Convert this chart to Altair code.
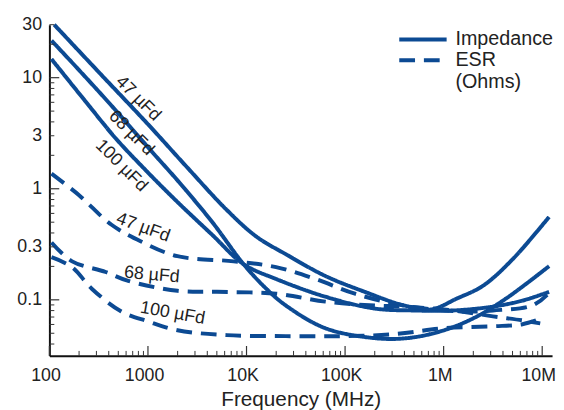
import altair as alt
import pandas as pd

BLUE = "#0c4a93"
FONT = "Liberation Sans"
TXT = "#222222"

# ---- curve data (frequency, ohms) ----
imp47_f = [112, 316, 1000, 2512, 6310, 12589, 25119, 63096, 158489, 398107, 741310, 1.349e6, 2.512e6, 5.012e6, 1.175e7]
imp47_z = [30, 11.25, 3.81, 1.55, 0.644, 0.371, 0.257, 0.164, 0.118, 0.0888, 0.0818, 0.1023, 0.134, 0.232, 0.558]

imp68_f = [105, 200, 417, 1122, 1995, 4467, 9333, 15849, 25119, 63096, 199526, 426580, 933254, 1.995e6, 4.266e6, 1.175e7]
imp68_z = [21.6, 11.7, 5.73, 2.107, 1.189, 0.504, 0.2095, 0.126, 0.0888, 0.0555, 0.0452, 0.0452, 0.0521, 0.0681, 0.1023, 0.201]

imp100_f = [105, 251, 468, 1000, 1995, 4467, 9333, 19953, 63096, 199526, 501187, 1.259e6, 3.162e6, 6.31e6, 1.175e7]
imp100_z = [14.7, 5.62, 2.86, 1.40, 0.759, 0.386, 0.2095, 0.154, 0.1067, 0.0835, 0.0802, 0.0802, 0.0869, 0.0984, 0.118]

esr47_f = [105, 200, 427, 851, 1995, 7413, 19953, 50119, 125893, 398107, 1.585e6, 3.162e6, 7.943e6, 1.122e7]
esr47_z = [1.37, 0.875, 0.474, 0.335, 0.247, 0.222, 0.197, 0.154, 0.1135, 0.0888, 0.0785, 0.0802, 0.0888, 0.111]

esr68_f = [105, 170, 372, 631, 1995, 5012, 19953, 63096, 199526, 398107, 1.259e6, 3.162e6, 6.31e6, 9.55e6]
esr68_z = [0.328, 0.222, 0.178, 0.148, 0.1206, 0.118, 0.1135, 0.0964, 0.0888, 0.0869, 0.0802, 0.0710, 0.0653, 0.0614]

esr100_f = [105, 170, 269, 537, 1000, 1995, 6310, 25119, 93325, 316228, 1e6, 3.162e6, 6.31e6, 1e7]
esr100_z = [0.242, 0.197, 0.126, 0.0785, 0.064, 0.0532, 0.0481, 0.0471, 0.0471, 0.0491, 0.0555, 0.0578, 0.0603, 0.0681]

# ---- curve labels ----
lab_text = ["47 \u00b5Fd", "68 \u00b5Fd", "100 \u00b5Fd", "47 \u00b5Fd", "68 \u00b5Fd", "100 \u00b5Fd"]
lab_f = [794, 676, 537, 891, 1096, 1778]
lab_z = [6.48, 3.17, 1.61, 0.446, 0.167, 0.0754]
lab_angle = [45, 45, 45, 20, 5, 10]

# ---- axis ticks ----
x_major = [1e2, 1e3, 1e4, 1e5, 1e6, 1e7]
x_minor = [k * 10 ** e for e in range(2, 7) for k in range(2, 10)]
y_major = [0.1, 1, 10]
y_minor = [0.04, 0.05, 0.06, 0.07, 0.08, 0.09,
           0.2, 0.3, 0.4, 0.5, 0.6, 0.7, 0.8, 0.9,
           2, 3, 4, 5, 6, 7, 8, 9, 20, 30]
y_labels = [0.1, 0.3, 1, 3, 10, 30]

rows = []
for name, kind, fs, zs in [
    ("imp47", "Impedance", imp47_f, imp47_z),
    ("imp68", "Impedance", imp68_f, imp68_z),
    ("imp100", "Impedance", imp100_f, imp100_z),
    ("esr47", "ESR", esr47_f, esr47_z),
    ("esr68", "ESR", esr68_f, esr68_z),
    ("esr100", "ESR", esr100_f, esr100_z),
]:
    for f, z in zip(fs, zs):
        rows.append({"freq": f, "ohms": z, "curve": name, "kind": kind})
df = pd.DataFrame(rows)

H = 336
xs = alt.Scale(type="log", domain=[100, 1.259e7], nice=False)
ys = alt.Scale(type="log", domain=[0.0313, 30], nice=False)

x_axis = alt.Axis(
    values=x_major,
    labelExpr="datum.value >= 1e6 ? format(datum.value/1e6,'d') + 'M' : datum.value >= 1e4 ? format(datum.value/1e3,'d') + 'K' : format(datum.value,'d')",
    ticks=False, tickSize=0, grid=False,
    domainColor="#111111", domainWidth=2,
    labelFont=FONT, labelFontSize=18, labelColor=TXT, labelPadding=11, labelOffset=-4,
    labelFlush=False, labelOverlap=False,
    title="Frequency (MHz)", titleFont=FONT, titleFontSize=21, titleFontWeight="normal",
    titleColor=TXT, titlePadding=4,
)
y_axis = alt.Axis(
    values=y_labels,
    labelExpr="datum.value >= 1 ? format(datum.value,'d') : format(datum.value,'.1f')",
    ticks=False, tickSize=0, grid=False,
    domainColor="#111111", domainWidth=2,
    labelFont=FONT, labelFontSize=18, labelColor=TXT, labelPadding=8,
    labelFlush=False, labelOverlap=False, title=None,
)


def X(field):
    return alt.X(field, type="quantitative", scale=xs, axis=x_axis)


def Y(field):
    return alt.Y(field, type="quantitative", scale=ys, axis=y_axis)


lines = alt.Chart(df).mark_line(color=BLUE, strokeWidth=4, interpolate="catmull-rom").encode(
    x=X("freq"),
    y=Y("ohms"),
    detail="curve:N",
    strokeDash=alt.StrokeDash(
        "kind:N",
        scale=alt.Scale(domain=["Impedance", "ESR"], range=[[1, 0], [16, 9]]),
        legend=alt.Legend(
            title=None, orient="none", legendX=368, legendY=4,
            symbolType="M-2.67,0H2.67", symbolSize=324, symbolStrokeWidth=4,
            symbolStrokeColor=BLUE, symbolFillColor="transparent",
            labelFont=FONT, labelFontSize=20, labelColor=TXT, labelOffset=22,
            rowPadding=0, padding=0,
        ),
    ),
)

labels_df = pd.DataFrame({"text": lab_text, "freq": lab_f, "ohms": lab_z, "angle": lab_angle})
labels = alt.Chart(labels_df).mark_text(font=FONT, fontSize=18, color=TXT, align="center", baseline="middle").encode(
    x=X("freq"),
    y=Y("ohms"),
    text="text:N",
    angle=alt.Angle("angle:Q", scale=None),
)

ohms_df = pd.DataFrame({"text": ["(Ohms)"], "freq": [1.318e6], "ohms": [9.17]})
ohms = alt.Chart(ohms_df).mark_text(font=FONT, fontSize=20, color=TXT, align="left", baseline="middle").encode(
    x=X("freq"),
    y=Y("ohms"),
    text="text:N",
)

TICK = "#333333"
xmaj = alt.Chart(pd.DataFrame({"freq": x_major})).mark_rule(color=TICK, strokeWidth=1.2).encode(
    x=X("freq"), y=alt.value(H), y2=alt.value(H - 10))
xmin = alt.Chart(pd.DataFrame({"freq": x_minor})).mark_rule(color=TICK, strokeWidth=1).encode(
    x=X("freq"), y=alt.value(H), y2=alt.value(H - 5))
ymaj = alt.Chart(pd.DataFrame({"ohms": y_major})).mark_rule(color=TICK, strokeWidth=1.2).encode(
    y=Y("ohms"), x=alt.value(0), x2=alt.value(10))
ymin = alt.Chart(pd.DataFrame({"ohms": y_minor})).mark_rule(color=TICK, strokeWidth=1).encode(
    y=Y("ohms"), x=alt.value(0), x2=alt.value(5))

chart = alt.layer(lines, xmin, xmaj, ymin, ymaj, labels, ohms).properties(
    width=510, height=H,
    padding={"left": 42, "top": 14, "right": 4, "bottom": 52},
    autosize=alt.AutoSizeParams(type="none"),
    background="white",
).configure_view(stroke=None)

chart.save("out.html", embed_options={"renderer": "svg", "actions": False})
